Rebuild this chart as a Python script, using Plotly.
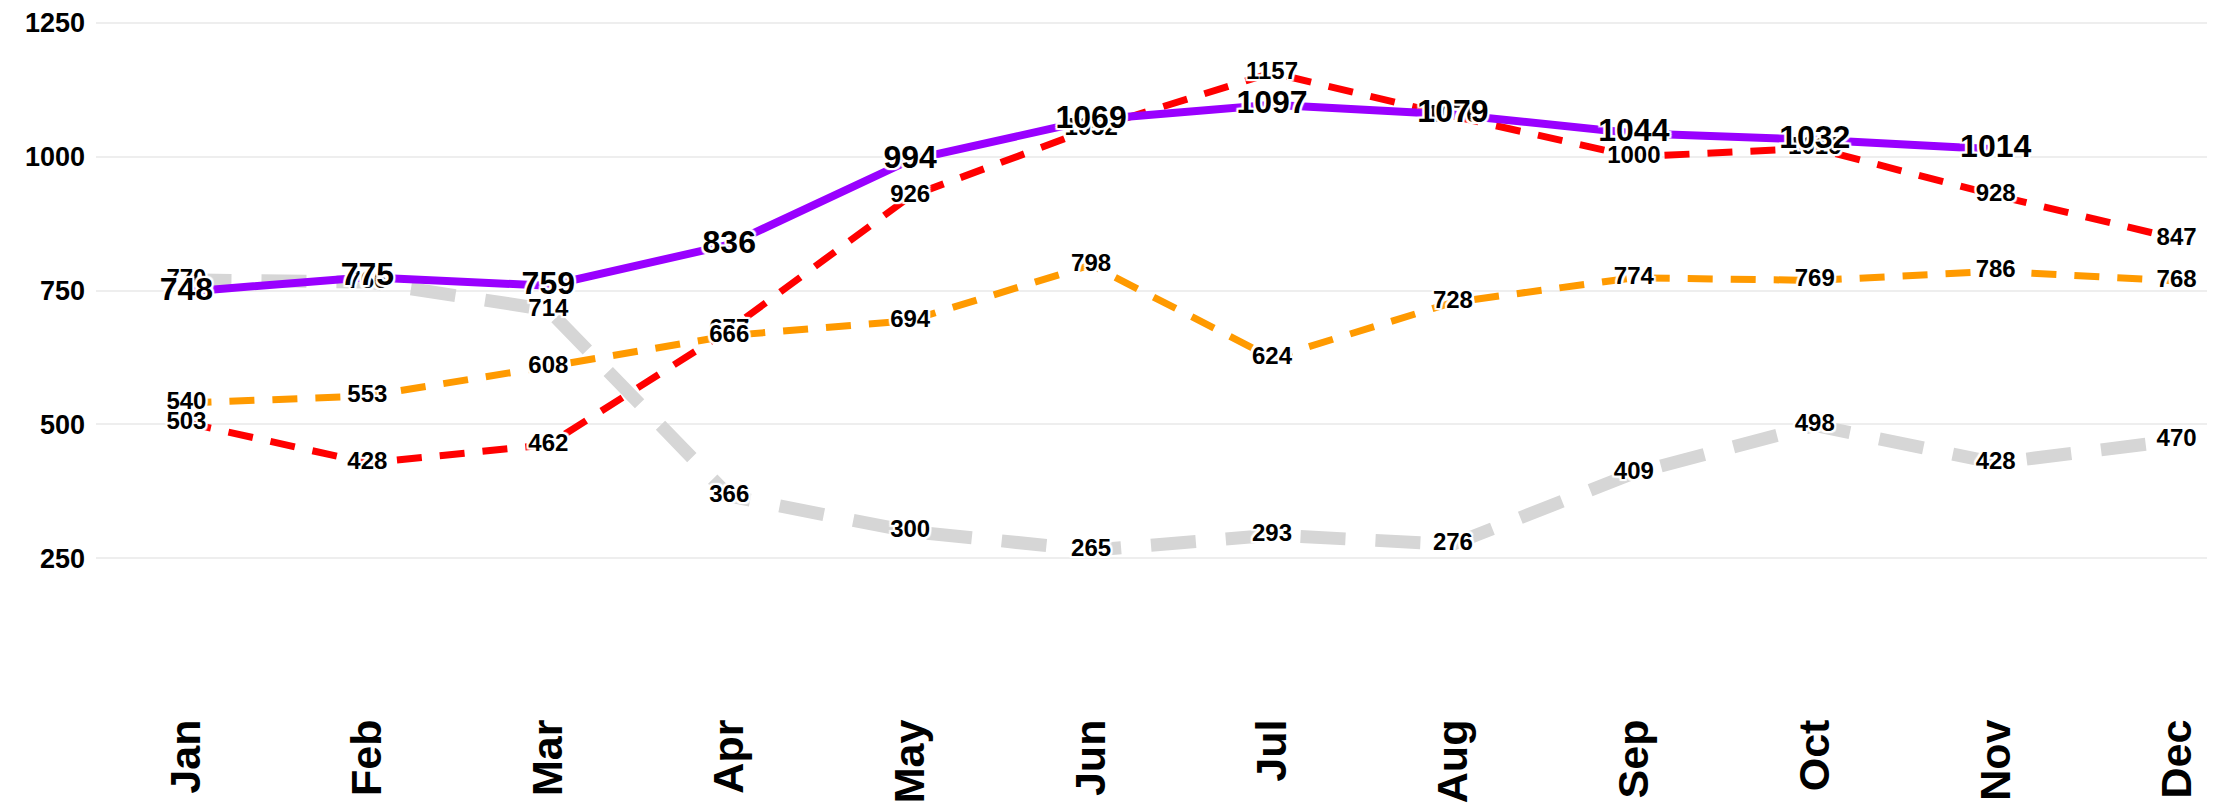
import plotly.graph_objects as go

months = ["Jan", "Feb", "Mar", "Apr", "May", "Jun", "Jul", "Aug", "Sep", "Oct", "Nov", "Dec"]
purple_vals = [748, 775, 759, 836, 994, 1069, 1097, 1079, 1044, 1032, 1014, None]
red_vals = [503, 428, 462, 677, 926, 1052, 1157, 1076, 1000, 1016, 928, 847]
orange_vals = [540, 553, 608, 666, 694, 798, 624, 728, 774, 769, 786, 768]
gray_vals = [770, 766, 714, 366, 300, 265, 293, 276, 409, 498, 428, 470]
y_ticks = [250, 500, 750, 1000, 1250]

halo = ("2px 0 1px white, -2px 0 1px white, 0 2px 1px white, 0 -2px 1px white, "
        "2px 2px 1px white, -2px -2px 1px white, 2px -2px 1px white, -2px 2px 1px white")
label_family = "Liberation Sans Narrow, Arial Narrow, Liberation Sans, Arial, sans-serif"

series = [
    # name, values, color, width, dash, label size, label weight
    ("gray", gray_vals, "#d6d6d6", 13, "45px,30px", 24, "bold"),
    ("red", red_vals, "#ff0000", 7, "25px,18px", 24, "bold"),
    ("orange", orange_vals, "#ff9a00", 7, "25px,18px", 24, "bold"),
    ("purple", purple_vals, "#9900ff", 8, "solid", 32, "bold"),
]

fig = go.Figure()
for name, vals, color, width, dash, _, _ in series:
    fig.add_trace(go.Scatter(
        x=months, y=vals, mode="lines", name=name,
        line=dict(color=color, width=width, dash=dash),
        connectgaps=False, hoverinfo="skip", showlegend=False,
    ))
for name, vals, color, width, dash, size, weight in series:
    fig.add_trace(go.Scatter(
        x=months, y=vals, mode="text", name=name + " labels",
        text=[("" if v is None else str(v)) for v in vals],
        textposition="middle center",
        textfont=dict(family=label_family, size=size, color="#000000",
                      weight=weight, shadow=halo),
        hoverinfo="skip", showlegend=False,
        cliponaxis=False,
    ))

fig.update_layout(
    width=2207, height=800,
    margin=dict(l=88, r=4, t=0, b=116),
    paper_bgcolor="white", plot_bgcolor="white",
    showlegend=False,
    xaxis=dict(
        type="category", categoryorder="array", categoryarray=months,
        range=[-0.5, 11.19], showgrid=False, zeroline=False, showline=False,
        tickangle=-90, ticks="", ticklabelstandoff=18,
        tickfont=dict(family="Liberation Sans, Arial, sans-serif", size=43, color="#000000", weight="bold"),
    ),
    yaxis=dict(
        range=[0, 1268.6], tickvals=y_ticks, ticktext=[str(t) for t in y_ticks],
        showgrid=True, gridcolor="#eeeeee", gridwidth=2, zeroline=False, showline=False,
        ticks="", ticklabelstandoff=10, ticklabeloverflow="allow",
        tickfont=dict(family="Liberation Sans, Arial, sans-serif", size=27, color="#000000", weight="bold"),
    ),
)

fig.write_html("out.html")
